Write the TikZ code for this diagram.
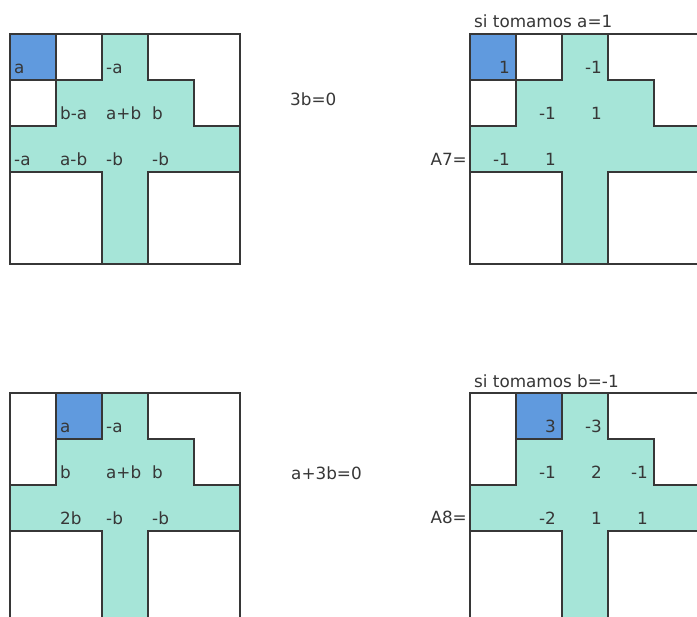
\documentclass[tikz,border=0pt]{standalone}
\usepackage{fontspec}
\setmainfont{DejaVu Sans}
\definecolor{tealfill}{RGB}{166,229,216}
\definecolor{bluefill}{RGB}{96,154,222}
\definecolor{ink}{RGB}{55,55,55}
\tikzset{
  gridline/.style={draw=ink, line width=1.8pt, line cap=rect, line join=miter},
  lbl/.style={text=ink, font=\fontsize{16.8}{19}\selectfont, inner sep=0pt},
  leftlbl/.style={lbl, anchor=base west, xshift=4pt, yshift=-40pt},
  rightlbl/.style={lbl, anchor=base east, xshift=-6pt, yshift=-40pt},
  cellunit/.style={x=46pt, y=-46pt}
}
\newcommand\crossfillshape{%
  \fill[tealfill] (2,0) rectangle (3,5);
  \fill[tealfill] (1,1) rectangle (4,2);
  \fill[tealfill] (0,2) rectangle (5,3);
}
\newcommand\crosscommonlines{%
  \draw[gridline] (3,0) -- (3,1) -- (4,1) -- (4,2) -- (5,2);
  \draw[gridline] (0,3) -- (2,3) -- (2,5);
  \draw[gridline] (5,3) -- (3,3) -- (3,5);
  \draw[gridline] (0,0) rectangle (5,5);
}
\newcommand\crossgridfirst{%
  \crossfillshape
  \fill[bluefill] (0,0) rectangle (1,1);
  \draw[gridline] (0,1) -- (2,1);
  \draw[gridline] (1,0) -- (1,2);
  \draw[gridline] (0,2) -- (1,2);
  \draw[gridline] (2,0) -- (2,1);
  \crosscommonlines
}
\newcommand\crossgridsecond{%
  \crossfillshape
  \fill[bluefill] (1,0) rectangle (2,1);
  \draw[gridline] (1,1) -- (2,1);
  \draw[gridline] (1,0) -- (1,2);
  \draw[gridline] (0,2) -- (1,2);
  \draw[gridline] (2,0) -- (2,1);
  \crosscommonlines
}
\begin{document}
\begin{tikzpicture}[x=1pt, y=-1pt]
  \fill[white] (0,0) rectangle (697,617);
  \clip (0,0) rectangle (697,617);

  % top-left grid
  \begin{scope}[xshift=10pt, yshift=-34pt, cellunit]
    \crossgridfirst
    \node[leftlbl] (tla) at (0,0) {a};
    \node[leftlbl] (tlb) at (2,0) {-a};
    \node[leftlbl] (tlc) at (1,1) {b-a};
    \node[leftlbl] (tld) at (2,1) {a+b};
    \node[leftlbl] (tle) at (3,1) {b};
    \node[leftlbl] (tlf) at (0,2) {-a};
    \node[leftlbl] (tlg) at (1,2) {a-b};
    \node[leftlbl] (tlh) at (2,2) {-b};
    \node[leftlbl] (tli) at (3,2) {-b};
  \end{scope}

  % top-right grid
  \begin{scope}[xshift=470pt, yshift=-34pt, cellunit]
    \crossgridfirst
    \node[rightlbl] (tra) at (1,0) {1};
    \node[rightlbl] (trb) at (3,0) {-1};
    \node[rightlbl] (trc) at (2,1) {-1};
    \node[rightlbl] (trd) at (3,1) {1};
    \node[rightlbl] (tre) at (1,2) {-1};
    \node[rightlbl] (trf) at (2,2) {1};
  \end{scope}

  % bottom-left grid
  \begin{scope}[xshift=10pt, yshift=-393pt, cellunit]
    \crossgridsecond
    \node[leftlbl] (bla) at (1,0) {a};
    \node[leftlbl] (blb) at (2,0) {-a};
    \node[leftlbl] (blc) at (1,1) {b};
    \node[leftlbl] (bld) at (2,1) {a+b};
    \node[leftlbl] (ble) at (3,1) {b};
    \node[leftlbl] (blf) at (1,2) {2b};
    \node[leftlbl] (blg) at (2,2) {-b};
    \node[leftlbl] (blh) at (3,2) {-b};
  \end{scope}

  % bottom-right grid
  \begin{scope}[xshift=470pt, yshift=-393pt, cellunit]
    \crossgridsecond
    \node[rightlbl] (bra) at (2,0) {3};
    \node[rightlbl] (brb) at (3,0) {-3};
    \node[rightlbl] (brc) at (2,1) {-1};
    \node[rightlbl] (brd) at (3,1) {2};
    \node[rightlbl] (bre) at (4,1) {-1};
    \node[rightlbl] (brf) at (2,2) {-2};
    \node[rightlbl] (brg) at (3,2) {1};
    \node[rightlbl] (brh) at (4,2) {1};
  \end{scope}

  % side texts
  \node[lbl, anchor=base west] (eqone) at (290,106) {3b=0};
  \node[lbl, anchor=base west] (eqtwo) at (291,480) {a+3b=0};
  \node[lbl, anchor=base east] (asev) at (467,166) {A7=};
  \node[lbl, anchor=base east] (aeig) at (467,524) {A8=};
  \node[lbl, anchor=base west] (tomone) at (474,28) {si tomamos a=1};
  \node[lbl, anchor=base west] (tomtwo) at (474,388) {si tomamos b=-1};
\end{tikzpicture}
\end{document}
